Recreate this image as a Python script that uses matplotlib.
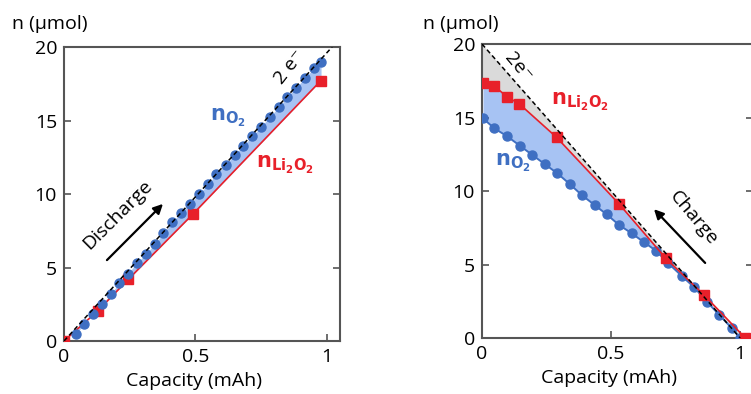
import numpy as np
import matplotlib.pyplot as plt

plt.rcParams['font.family'] = ['Open Sans', 'DejaVu Sans']
plt.rcParams['mathtext.fontset'] = 'dejavusans'

# discharge: O2 consumed (dots) and Li2O2 formed (squares)
dis_q_o2 = [0.046, 0.076, 0.110, 0.143, 0.178, 0.208, 0.242, 0.276, 0.311, 0.345,
            0.378, 0.411, 0.445, 0.479, 0.513, 0.548, 0.580, 0.615, 0.649, 0.682,
            0.716, 0.750, 0.783, 0.817, 0.850, 0.883, 0.917, 0.951, 0.978]
dis_n_o2 = [0.46, 1.16, 1.81, 2.49, 3.17, 3.92, 4.56, 5.28, 5.92, 6.58,
            7.33, 8.07, 8.73, 9.34, 9.98, 10.66, 11.36, 11.99, 12.67, 13.29,
            13.92, 14.58, 15.26, 15.90, 16.62, 17.23, 17.91, 18.55, 18.96]
dis_q_li = [0.0, 0.128, 0.245, 0.492, 0.976]
dis_n_li = [0.0, 2.04, 4.20, 8.66, 17.69]
dis_q_2e = [0.0, 1.02]
dis_n_2e = [0.0, 20.0]

# charge: O2 evolved (dots) and Li2O2 remaining (squares)
chg_q_o2 = [0.004, 0.048, 0.096, 0.147, 0.195, 0.244, 0.292, 0.341, 0.386, 0.436,
            0.483, 0.531, 0.580, 0.628, 0.674, 0.722, 0.774, 0.822, 0.871, 0.920,
            0.968, 1.0]
chg_n_o2 = [14.94, 14.26, 13.74, 13.08, 12.45, 11.82, 11.20, 10.46, 9.73, 9.05,
            8.41, 7.69, 7.12, 6.51, 5.94, 5.08, 4.22, 3.45, 2.47, 1.56,
            0.66, 0.0]
chg_q_li = [0.005, 0.048, 0.096, 0.145, 0.289, 0.531, 0.712, 0.860, 1.02]
chg_n_li = [17.33, 17.14, 16.42, 15.92, 13.65, 9.12, 5.42, 2.93, 0.0]
chg_q_2e = [0.0, 1.0]
chg_n_2e = [20.0, 0.0]

blue = '#3f6fc2'
red = '#e8202a'
fill_blue = '#a7c3f3'
fill_gray = '#dadada'
spine_col = '#555555'

fig = plt.figure(figsize=(7.51, 3.94), dpi=100)
ax1 = fig.add_axes([0.0852, 0.1345, 0.3675, 0.7462])
ax2 = fig.add_axes([0.6418, 0.1421, 0.3609, 0.7462])


def style(ax):
    ax.set_xlim(0, 1.05)
    ax.set_ylim(0, 20)
    ax.set_xticks([0, 0.5, 1])
    ax.set_xticklabels(['0', '0.5', '1'])
    ax.set_yticks([0, 5, 10, 15, 20])
    ax.tick_params(direction='in', length=5, width=1.2, color=spine_col,
                   labelsize=14, right=True, pad=5)
    for s in ax.spines.values():
        s.set_color(spine_col)
        s.set_linewidth(1.5)
    ax.set_xlabel('Capacity (mAh)', fontsize=14, labelpad=0)
    ax.xaxis.set_label_coords(0.47, -0.105)


# discharge panel
style(ax1)
li_on_o2 = np.interp(dis_q_o2, dis_q_li, dis_n_li)
ax1.fill_between(dis_q_o2, li_on_o2, dis_n_o2, color=fill_blue, lw=0)
ax1.plot(dis_q_li, dis_n_li, color=red, lw=1.2, marker='s', ms=7, zorder=3)
ax1.plot(dis_q_o2, dis_n_o2, color=blue, lw=1.2, marker='o', ms=6.5,
         ls='none', zorder=4)
ax1.plot(dis_q_2e, dis_n_2e, color='black', lw=1.1, ls=(0, (3, 2)), zorder=5)
ax1.text(0.86, 18.6, '2 e⁻', rotation=52, ha='center', va='center', fontsize=14)
ax1.text(0.624, 15.2, r'$\mathbf{n}_{\mathbf{O_2}}$', color=blue,
         ha='center', va='center', fontsize=15)
ax1.text(0.84, 12.0, r'$\mathbf{n}_{\mathbf{Li_2O_2}}$', color=red,
         ha='center', va='center', fontsize=15)
ax1.text(0.205, 8.6, 'Discharge', rotation=45, ha='center', va='center',
         fontsize=14)
ax1.annotate('', xy=(0.384, 9.46), xytext=(0.156, 5.37),
             arrowprops=dict(arrowstyle='-|>', color='black', lw=1.6,
                             mutation_scale=14))
fig.text(0.016, 0.94, 'n (μmol)', fontsize=14, ha='left', va='center')

# charge panel
style(ax2)
li_on_o2 = np.interp(chg_q_o2, chg_q_li, chg_n_li)
ax2.fill_between(chg_q_o2, chg_n_o2, li_on_o2, color=fill_blue, lw=0)
grid_q = np.sort(np.concatenate([[0.0], chg_q_li[:-1], [1.0]]))
ax2.fill_between(grid_q, np.interp(grid_q, chg_q_li, chg_n_li),
                 np.interp(grid_q, chg_q_2e, chg_n_2e),
                 color=fill_gray, lw=0)
ax2.plot(chg_q_o2, chg_n_o2, color=blue, lw=1.4, marker='o', ms=6.5, zorder=3)
ax2.plot(chg_q_li, chg_n_li, color=red, lw=1.2, marker='s', ms=7, zorder=4)
ax2.plot(chg_q_2e, chg_n_2e, color='black', lw=1.1, ls=(0, (3, 2)), zorder=5)
ax2.text(0.14, 18.4, '2e⁻', rotation=-50, ha='center', va='center', fontsize=14)
ax2.text(0.38, 16.05, r'$\mathbf{n}_{\mathbf{Li_2O_2}}$', color=red,
         ha='center', va='center', fontsize=15)
ax2.text(0.12, 11.9, r'$\mathbf{n}_{\mathbf{O_2}}$', color=blue,
         ha='center', va='center', fontsize=15)
ax2.text(0.818, 8.16, 'Charge', rotation=-50, ha='center', va='center',
         fontsize=14)
ax2.annotate('', xy=(0.659, 8.9), xytext=(0.872, 4.97),
             arrowprops=dict(arrowstyle='-|>', color='black', lw=1.6,
                             mutation_scale=14))
fig.text(0.563, 0.94, 'n (μmol)', fontsize=14, ha='left', va='center')

fig.savefig('out.png', dpi=100)
